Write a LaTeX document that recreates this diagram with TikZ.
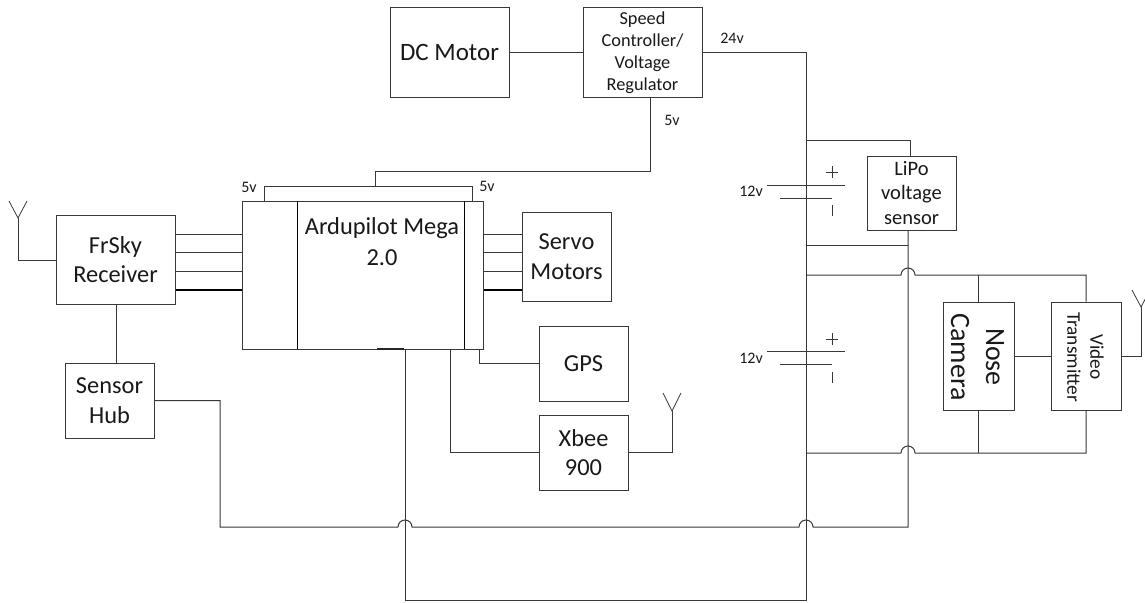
\documentclass[tikz,border=0pt]{standalone}
\usepackage{fontspec}
\setmainfont{Carlito}
\newcommand{\fs}[2]{\fontsize{#1}{#2}\selectfont}
\tikzset{
  wire/.style={line width=1pt,draw=black!78,line join=miter},
  boldwire/.style={line width=1.8pt,draw=black},
  box/.style={draw=black!78,line width=1pt,fill=white,inner sep=0pt,align=center,text=black!90},
  lbl/.style={inner sep=0pt,align=center,text=black!90},
}
\begin{document}
\begin{tikzpicture}[x=1pt,y=-1pt]
\useasboundingbox (0,0) rectangle (1145,602);
% boxes
\node[box,minimum width=119,minimum height=89,font=\fs{25}{30}] (motor) at (449.5,52.5) {DC Motor};
\node[box,minimum width=119,minimum height=89,font=\fs{18.3}{22}] (esc) at (642.5,52.5) {Speed\\Controller/\\Voltage\\Regulator};
\node[box,minimum width=241,minimum height=148] (apm) at (362.5,275) {};
\node[lbl,font=\fs{24.4}{31}] (apmtext) at (382,241.5) {Ardupilot Mega\\2.0};
\node[box,minimum width=119,minimum height=89,font=\fs{24.4}{29.5}] (frsky) at (115.5,259.5) {FrSky\\Receiver};
\node[box,minimum width=89,minimum height=75,font=\fs{24.4}{29.5}] (hub) at (109.5,400.5) {Sensor\\Hub};
\node[box,minimum width=89,minimum height=89,font=\fs{24.4}{29.5}] (servo) at (566.5,256.5) {Servo\\Motors};
\node[box,minimum width=89,minimum height=75,font=\fs{24.4}{29.5}] (gps) at (583.5,363.5) {GPS};
\node[box,minimum width=89,minimum height=75,font=\fs{24.4}{29.5}] (xbee) at (583.5,452.5) {Xbee\\900};
\node[box,minimum width=89,minimum height=74,font=\fs{20.5}{24.5}] (lipo) at (911.5,193) {LiPo\\voltage\\sensor};
\node[box,minimum width=71,minimum height=108] (cam) at (978.5,356) {};
\node[box,minimum width=70,minimum height=108] (vtx) at (1086,356) {};
\node[lbl,rotate=-90,font=\fs{28}{35}] (camtext) at (977.5,357) {Nose\\Camera};
\node[lbl,rotate=-90,font=\fs{19.3}{23}] (vtxtext) at (1085.5,357) {Video\\Transmitter};
% named points
\coordinate (apmsplitL) at (297,201); \coordinate (apmsplitLb) at (297,349);
\coordinate (apmsplitR) at (464,201); \coordinate (apmsplitRb) at (464,349);
\coordinate (railbot) at (806,600);
\coordinate (sense) at (908,230);
\coordinate (camtop) at (978,275); \coordinate (cambot) at (978,453);
\coordinate (vtxtop) at (1086,275); \coordinate (vtxbot) at (1086,453);
\draw[wire,line width=.9pt,black] (apmsplitL) -- (apmsplitLb) (apmsplitR) -- (apmsplitRb);
% antenna FrSky
\coordinate (ant1) at (18,218);
\draw[wire] (frsky.west |- 0,260) -| (ant1);
\draw[wire,line width=.8pt] (9,201) -- (ant1) -- (27,201);
% data lines
\foreach \y in {234,252.5,271}{
  \draw[wire] (frsky.east |- 0,\y) -- (apm.west |- 0,\y);
  \draw[wire] (apm.east |- 0,\y) -- (servo.west |- 0,\y);
}
\draw[boldwire] (frsky.east |- 0,290) -- (apm.west |- 0,290);
\draw[boldwire] (apm.east |- 0,290) -- (servo.west |- 0,290);
\draw[wire] (frsky.south -| 116,0) -- (hub.north -| 116,0);
% top
\draw[wire] (motor.east) -- (esc.west);
\draw[wire] (esc.east) -| (railbot) -- (405,600) -- (405,349);
\draw[wire] (650,97) -- (650,171) -- (375,171) -- (375,186);
\draw[wire] (264,201) -- (264,186) -- (472,186) -- (472,201);
\draw[boldwire,black!85,line width=1.4pt] (377,349) -- (404,349);
% gps, xbee
\draw[wire] (479,349) |- (gps.west);
\draw[wire] (450,349) |- (xbee.west);
\coordinate (ant2) at (672,411);
\draw[wire] (xbee.east) -| (ant2);
\draw[wire,line width=.8pt] (663,393) -- (ant2) -- (681,393);
% sensor bus with hops
\draw[wire] (hub.east) -| (220,527) -- (398,527) arc[start angle=180,end angle=0,radius=7pt] -- (799,527) arc[start angle=180,end angle=0,radius=7pt] -- (908,527) -- (sense);
\draw[wire] (lipo.south -| 908,0) -- (sense);
% right side
\draw[wire] (806,140) -| (lipo.north -| 910,0);
\draw[wire] (806,245) -- (908,245);
\draw[wire] (806,275) -- (901,275) arc[start angle=180,end angle=0,radius=7pt] -- (vtxtop) -- (vtx.north -| 1086,0);
\draw[wire] (camtop) -- (cam.north -| 978,0);
\draw[wire] (806,453) -- (901,453) arc[start angle=180,end angle=0,radius=7pt] -- (vtxbot) -- (vtx.south -| 1086,0);
\draw[wire] (cambot) -- (cam.south -| 978,0);
\draw[wire] (cam.east |- 0,356) -- (vtx.west |- 0,356);
\coordinate (ant3) at (1141,307);
\draw[wire] (vtx.east |- 0,356) -| (ant3);
\draw[wire,line width=.8pt] (1132,290) -- (ant3) -- (1150,290);
% batteries
\draw[wire] (767,185) -- (845,185) (780,198) -- (832,198);
\draw[wire] (767,351) -- (845,351) (780,364) -- (832,364);
\draw[wire,line width=.7pt] (826,172) -- (838,172) (832,166) -- (832,178) (832,205) -- (832,216);
\draw[wire,line width=.7pt] (826,339) -- (838,339) (832,333) -- (832,345) (832,372) -- (832,383);
% labels
\node[lbl,font=\fs{16}{18}] (v1) at (249,187) {5v};
\node[lbl,font=\fs{16}{18}] (v2) at (487,186) {5v};
\node[lbl,font=\fs{16}{18}] (v3) at (672,120) {5v};
\node[lbl,font=\fs{16}{18}] (v4) at (732,38) {24v};
\node[lbl,font=\fs{16}{18},anchor=east] (v5) at (763,191) {12v};
\node[lbl,font=\fs{16}{18},anchor=east] (v6) at (763,358) {12v};
\end{tikzpicture}
\end{document}
